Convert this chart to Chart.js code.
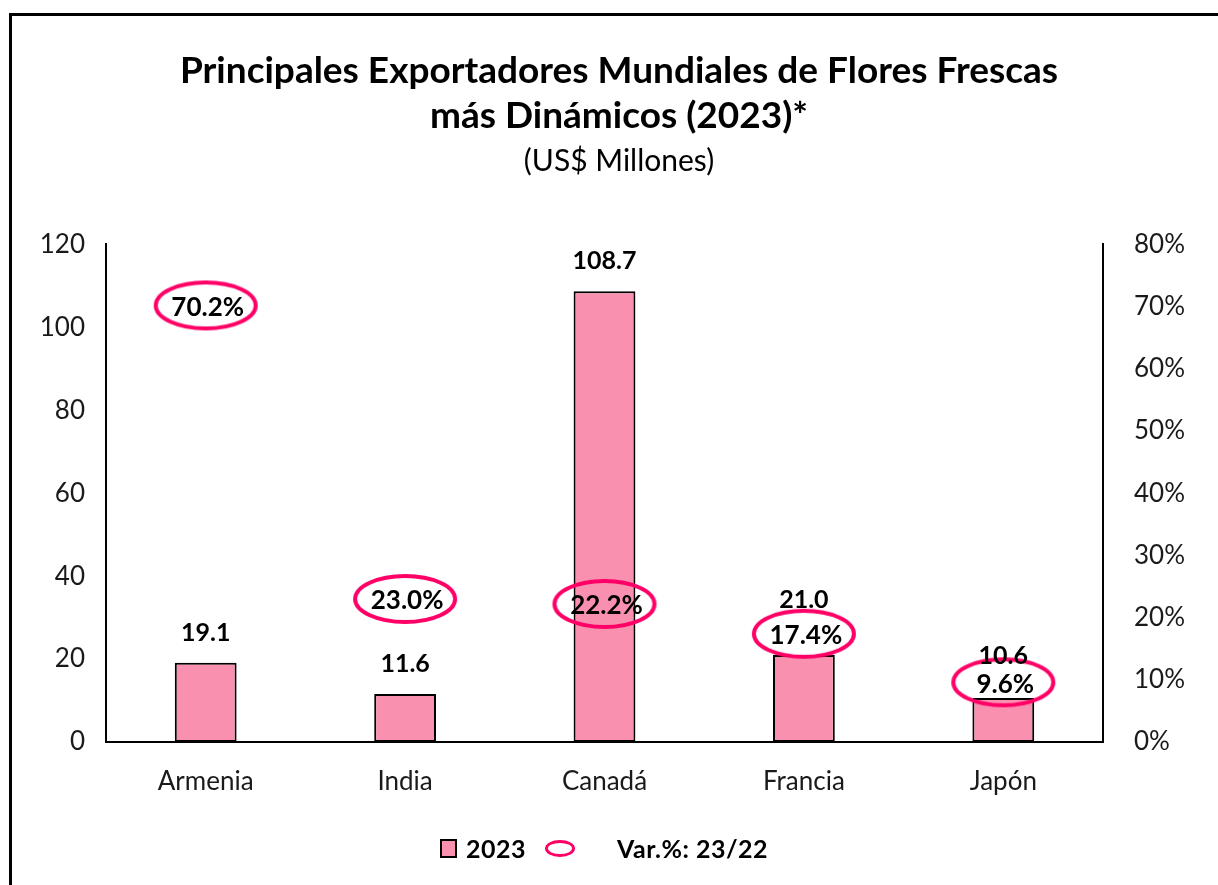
<!DOCTYPE html>
<html>
<head>
<meta charset="utf-8">
<script src="https://cdn.jsdelivr.net/npm/chart.js@4"></script>
<style>
  html, body { margin: 0; padding: 0; background: #fff; }
  #wrap { position: relative; width: 1218px; height: 885px; overflow: hidden; }
  #frame {
    position: absolute; left: 9px; top: 13px; width: 1400px; height: 1000px;
    border: 3px solid #000; pointer-events: none;
  }
  #legend {
    position: absolute; top: 833px; left: 440px; display: flex; align-items: center;
    font: bold 25px Lato, sans-serif; color: #000; letter-spacing: 0.5px;
  }
  #legend .item { display: flex; align-items: center; }
  #legend .rect { width: 13px; height: 15px; border: 2px solid #000; margin-right: 9px; }
  #legend .oval { width: 24px; height: 11px; border: 3px solid #FF0066; border-radius: 50%; margin: 0 42px 0 19px; }
</style>
</head>
<body>
<div id="wrap">
  <canvas id="chart" width="1218" height="885"></canvas>
  <div id="frame"></div>
  <div id="legend"></div>
</div>
<script>
// =========================
// Datos
// =========================
const countries = ["Armenia", "India", "Canadá", "Francia", "Japón"];
const exports2023 = [19.1, 11.6, 108.7, 21.0, 10.6];
const varPct = [70.2, 23.0, 22.2, 17.4, 9.6];

const FONT = "Lato, sans-serif";
const BAR_COLOR = "#F990B0";
const OVAL_COLOR = "#FF0066";

// small extra lift for labels that would hit an oval
const barLabelLift = [0, 0, 0, 25, 12];

// =========================
// Marcador elíptico
// =========================
function makeOval(w, h, lw, color) {
  const c = document.createElement("canvas");
  c.width = w;
  c.height = h;
  const g = c.getContext("2d");
  g.strokeStyle = color;
  g.lineWidth = lw;
  g.beginPath();
  g.ellipse(w / 2, h / 2, w / 2 - lw / 2 - 1, h / 2 - lw / 2 - 1, 0, 0, Math.PI * 2);
  g.stroke();
  return c;
}

const oval = makeOval(106, 52, 4, OVAL_COLOR);

// =========================
// Etiquetas
// =========================
const valueLabels = {
  id: "valueLabels",
  afterDatasetsDraw(chart) {
    const ctx = chart.ctx;
    ctx.save();
    ctx.font = "bold 25px " + FONT;
    ctx.fillStyle = "#000";
    ctx.textAlign = "center";
    ctx.textBaseline = "middle";

    chart.getDatasetMeta(0).data.forEach((bar, i) => {
      ctx.fillText(exports2023[i].toFixed(1), bar.x, bar.y - 30 - barLabelLift[i]);
    });

    ctx.font = "bold 26px " + FONT;
    chart.getDatasetMeta(1).data.forEach((pt, i) => {
      ctx.fillText(varPct[i].toFixed(1) + "%", pt.x + 2, pt.y + 2);
    });

    ctx.restore();
  },
};

// =========================
// Gráfico
// =========================
const chart = new Chart(document.getElementById("chart"), {
  type: "bar",
  data: {
    labels: countries,
    datasets: [
      {
        label: "2023",
        data: exports2023,
        backgroundColor: BAR_COLOR,
        borderColor: "#000",
        borderWidth: 2,
        borderSkipped: false,
        categoryPercentage: 1,
        barPercentage: 0.31,
        yAxisID: "y",
        order: 2,
      },
      {
        type: "line",
        label: "Var.%: 23/22",
        data: varPct,
        showLine: false,
        pointStyle: oval,
        yAxisID: "y1",
        order: 1,
      },
    ],
  },
  options: {
    responsive: false,
    animation: false,
    events: [],
    layout: { padding: { left: 20, right: 0, top: 0, bottom: 83 } },
    plugins: {
      legend: { display: false },
      tooltip: { enabled: false },
      title: {
        display: true,
        text: [
          "Principales Exportadores Mundiales de Flores Frescas",
          "más Dinámicos (2023)*",
        ],
        color: "#000",
        font: { family: FONT, size: 37, weight: "bold", lineHeight: 1.22 },
        padding: { top: 48, bottom: 5 },
      },
      subtitle: {
        display: true,
        text: "(US$ Millones)",
        color: "#000",
        font: { family: FONT, size: 30, lineHeight: 1.2 },
        padding: { top: 0, bottom: 65.2 },
      },
    },
    scales: {
      x: {
        grid: { display: false, drawTicks: false },
        border: { display: true, color: "#000", width: 2 },
        ticks: { color: "#1a1a1a", font: { family: FONT, size: 26 }, padding: 24 },
        afterFit: (s) => { s.height = 60; },
      },
      y: {
        position: "left",
        min: 0,
        max: 120,
        grid: { display: false, drawTicks: false },
        border: { display: true, color: "#000", width: 2 },
        ticks: { stepSize: 20, color: "#1a1a1a", font: { family: FONT, size: 26 }, padding: 21 },
        afterFit: (s) => { s.width = 86; },
      },
      y1: {
        position: "right",
        min: 0,
        max: 80,
        grid: { display: false, drawTicks: false },
        border: { display: true, color: "#000", width: 2 },
        ticks: {
          stepSize: 10,
          color: "#1a1a1a",
          font: { family: FONT, size: 26 },
          padding: 31,
          callback: (v) => v + "%",
        },
        afterFit: (s) => { s.width = 115; },
      },
    },
  },
  plugins: [valueLabels],
});

// =========================
// Leyenda
// =========================
function renderLegend() {
  const box = document.getElementById("legend");
  const [bars, line] = chart.data.datasets;
  box.innerHTML =
    '<span class="item"><span class="rect" style="background:' + bars.backgroundColor + '"></span>' + bars.label + "</span>" +
    '<span class="item"><span class="oval"></span>' + line.label + "</span>";
}

renderLegend();
</script>
</body>
</html>
